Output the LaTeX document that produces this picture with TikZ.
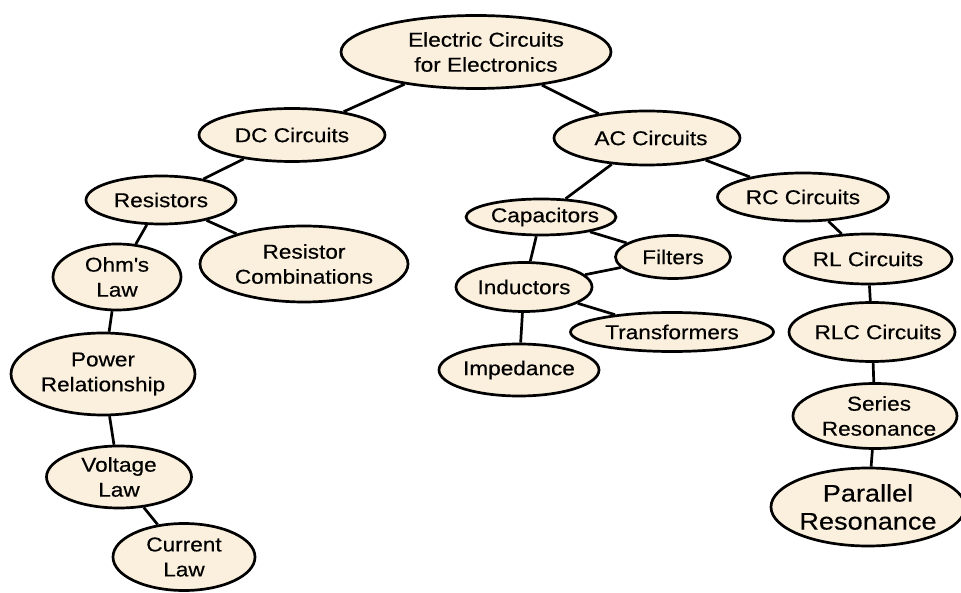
\documentclass[tikz,border=0pt]{standalone}
\usepackage{fontspec}
\setmainfont{Liberation Sans}[FakeStretch=1.13,FakeBold=0.4]
\usetikzlibrary{shapes.geometric}
\definecolor{cream}{HTML}{FBF0DD}
\tikzset{
  topic/.style={ellipse, draw=black, fill=cream, line width=2.7pt, inner sep=0pt,
    align=center, font=\fontsize{20}{25}\selectfont},
  link/.style={line width=2.7pt, draw=black}
}
\newcommand{\sh}[2]{\makebox[0pt]{\hspace*{#1pt}#2}}
\begin{document}
\begin{tikzpicture}[x=1pt,y=-1pt]
\useasboundingbox (0,0) rectangle (961,593);
\node[topic, minimum width=270, minimum height=73] (root) at (476,52) {\sh{20}{Electric Circuits}\\\sh{20}{for Electronics}};
\node[topic, minimum width=186, minimum height=53] (dc) at (292,135) {DC Circuits};
\node[topic, minimum width=186, minimum height=54] (ac) at (647,138) {\sh{8}{AC Circuits}};
\node[topic, minimum width=150, minimum height=48] (res) at (161,200) {Resistors};
\node[topic, minimum width=208, minimum height=76] (comb) at (304,264) {Resistor\\Combinations};
\node[topic, minimum width=128, minimum height=66] (ohm) at (117,277) {Ohm\textquotesingle s\\Law};
\node[topic, minimum width=184, minimum height=82] (power) at (103,374) {Power\\Relationship};
\node[topic, minimum width=145, minimum height=62] (volt) at (119,477) {Voltage\\Law};
\node[topic, minimum width=142, minimum height=67] (curr) at (184,557) {Current\\Law};
\node[topic, minimum width=150, minimum height=36] (cap) at (541,217) {\sh{8}{Capacitors}};
\node[topic, minimum width=115, minimum height=43] (filt) at (673,257) {Filters};
\node[topic, minimum width=136, minimum height=49] (ind) at (524,287) {Inductors};
\node[topic, minimum width=203, minimum height=39] (trans) at (672,332) {Transformers};
\node[topic, minimum width=160, minimum height=52] (imp) at (519,370) {Impedance};
\node[topic, minimum width=171, minimum height=48] (rc) at (803,197) {RC Circuits};
\node[topic, minimum width=168, minimum height=50] (rl) at (868,259) {RL Circuits};
\node[topic, minimum width=166, minimum height=59] (rlc) at (872,332) {\sh{12}{RLC Circuits}};
\node[topic, minimum width=164, minimum height=65] (ser) at (875,416) {\sh{8}{Series}\\\sh{8}{Resonance}};
\node[topic, minimum width=175, minimum height=78, font=\fontsize{24}{28}\selectfont] (par) at (868,507) {Parallel\\Resonance};
\draw[link] (root) -- (dc);
\draw[link] (root) -- (ac);
\draw[link] (dc) -- (res);
\draw[link] (res) -- (ohm);
\draw[link] (res) -- (comb);
\draw[link] (ohm) -- (power);
\draw[link] (power) -- (volt);
\draw[link] (volt) -- (curr);
\draw[link] (ac) -- (cap);
\draw[link] (ac) -- (rc);
\draw[link] (cap) -- (ind);
\draw[link] (cap) -- (filt);
\draw[link] (filt) -- (ind);
\draw[link] (ind) -- (trans);
\draw[link] (ind) -- (imp);
\draw[link] (rc) -- (rl);
\draw[link] (rl) -- (rlc);
\draw[link] (rlc) -- (ser);
\draw[link] (ser) -- (par);
\end{tikzpicture}
\end{document}
